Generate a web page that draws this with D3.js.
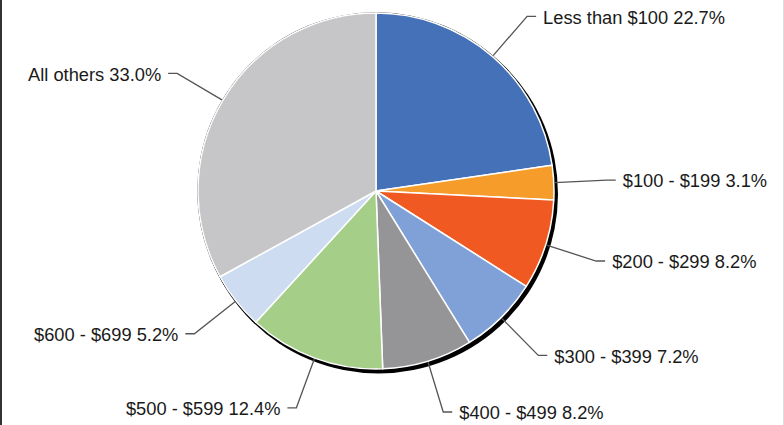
<!DOCTYPE html>
<html>
<head>
<meta charset="utf-8">
<script src="https://cdn.jsdelivr.net/npm/d3@7"></script>
<style>
  html, body { margin: 0; padding: 0; background: #fff; }
  svg { display: block; }
  .lbl { font-family: "Liberation Sans", Arial, sans-serif; font-size: 18.3px; fill: #1a1a1a; }
</style>
</head>
<body>
<div id="chart"></div>
<script>
// slice labels + shares, clockwise from 12 o'clock
var categories = ["Less than $100", "$100 - $199", "$200 - $299", "$300 - $399",
                  "$400 - $499", "$500 - $599", "$600 - $699", "All others"];
var shares = [22.7, 3.1, 8.2, 7.2, 8.2, 12.4, 5.2, 33.0];
var colors = ["#4571b8", "#f59c2a", "#f05a22", "#7fa1d8", "#959497", "#a5cf89", "#cddcf1", "#c6c6c9"];

var width = 784,
    height = 425,
    cx = 376,
    cy = 191,
    r = 178,
    elbowR = 231;

var svg = d3.select("#chart").append("svg")
  .attr("width", width)
  .attr("height", height);

// thin dark edge on the left, faint one on the right
svg.append("rect").attr("x", 0).attr("y", 0).attr("width", 2).attr("height", height).attr("fill", "#333");
svg.append("rect").attr("x", width - 1).attr("y", 0).attr("width", 1).attr("height", height).attr("fill", "#ddd");

var data = categories.map(function(c, i) { return {name: c, value: shares[i], color: colors[i]}; });

var pie = d3.pie().sort(null).value(function(d) { return d.value; });
var arcs = pie(data);
var arc = d3.arc().innerRadius(0).outerRadius(r);

var g = svg.append("g").attr("transform", "translate(" + cx + "," + cy + ")");

// drop shadow / outline
g.append("circle")
  .attr("cx", 2.5).attr("cy", 3)
  .attr("r", r + 1.5)
  .attr("fill", "#000");
g.append("circle")
  .attr("r", r + 0.8)
  .attr("fill", "#000");

g.selectAll("path.slice")
  .data(arcs)
  .enter().append("path")
  .attr("class", "slice")
  .attr("d", arc)
  .attr("fill", function(d) { return d.data.color; })
  .attr("stroke", "#fff")
  .attr("stroke-width", 1.5)
  .attr("stroke-linejoin", "round");

// leader lines + labels
arcs.forEach(function(d) {
  var a = (d.startAngle + d.endAngle) / 2;
  var sx = Math.sin(a), sy = -Math.cos(a);
  var right = sx >= 0;
  var p0 = [sx * (r + 1), sy * (r + 1)];
  var p1 = [sx * elbowR, sy * elbowR];
  var p2 = [p1[0] + (right ? 9 : -9), p1[1]];

  g.append("polyline")
    .attr("points", [p0, p1, p2].map(function(p) { return p.join(","); }).join(" "))
    .attr("fill", "none")
    .attr("stroke", "#555")
    .attr("stroke-width", 1.3);

  g.append("text")
    .attr("class", "lbl")
    .attr("x", p2[0] + (right ? 7 : -7))
    .attr("y", p2[1])
    .attr("dy", "0.4em")
    .style("text-anchor", right ? "start" : "end")
    .text(d.data.name + " " + d.data.value.toFixed(1) + "%");
});
</script>
</body>
</html>
